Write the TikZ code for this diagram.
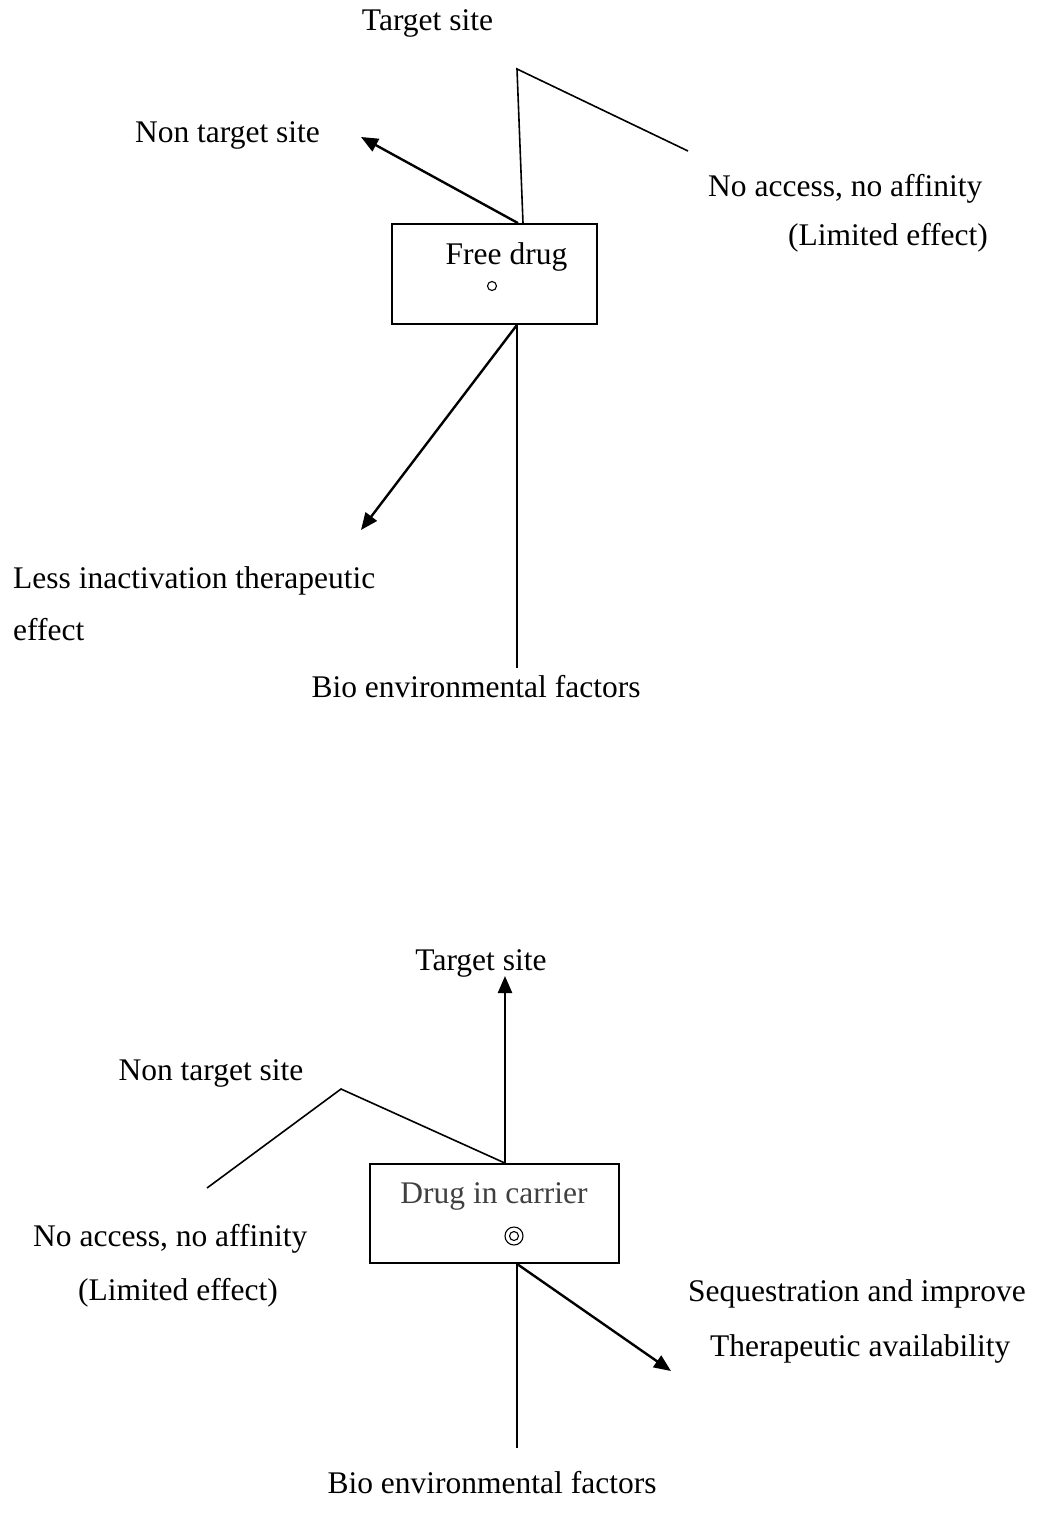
\documentclass[tikz,border=0pt]{standalone}
\usepackage{fontspec}
\setmainfont{Liberation Serif}
\usetikzlibrary{arrows.meta}
\definecolor{boxgray}{HTML}{404040}
\begin{document}
\begin{tikzpicture}[x=1pt,y=-1pt,
  lbl/.style={inner sep=0pt,font=\fontsize{31.5}{36}\selectfont},
  boxnode/.style={draw,line width=1.8pt,inner sep=0pt},
  thinline/.style={line width=1.6pt},
  arrowline/.style={line width=2.4pt,-{Triangle[length=17pt,width=14pt]}},
  dot/.style={circle,draw,inner sep=0pt,line width=1.1pt}]
\useasboundingbox (0,0) rectangle (1041,1528);

% ---------- upper diagram ----------
\node[boxnode,minimum width=205pt,minimum height=100pt] (fd) at (494.5,274) {};
\node[lbl,anchor=base] (fdtxt) at (506.5,264) {Free drug};
\node[dot,minimum size=9pt] (fddot) at (492,286) {};

\node[lbl,anchor=base] (ts1) at (427.5,31) {Target site};
\node[lbl,anchor=base] (nts1) at (227.5,142) {Non target site};
\node[lbl,anchor=base west] (na1) at (708,196) {No access, no affinity};
\node[lbl,anchor=base west] (le1) at (788,245) {(Limited effect)};
\node[lbl,anchor=base west] (li1) at (13,588) {Less inactivation therapeutic};
\node[lbl,anchor=base west] (li2) at (13,640) {effect};
\node[lbl,anchor=base] (bio1) at (476,697) {Bio environmental factors};

\coordinate (p1) at (517,69);
\coordinate (p2) at (688,151);
\coordinate (e1) at (361,137);
\coordinate (e2) at (361,530);
\coordinate (e3) at (517,668);

\draw[arrowline] ([xshift=23.5pt]fd.north) -- (e1);
\draw[thinline,line join=miter] ([xshift=28.5pt]fd.north) -- (p1) -- (p2);
\draw[arrowline] ([xshift=22.5pt]fd.south) -- (e2);
\draw[thinline] ([xshift=22.5pt]fd.south) -- (e3);

% ---------- lower diagram ----------
\node[boxnode,minimum width=249pt,minimum height=99pt] (dc) at (494.5,1213.5) {};
\node[lbl,anchor=base,text=boxgray] (dctxt) at (494,1203) {Drug in carrier};
\node[dot,minimum size=18pt] (dcdot) at (514,1236) {};
\node[dot,minimum size=9pt] (dcdot2) at (514,1236) {};

\node[lbl,anchor=base] (ts2) at (481,970) {Target site};
\node[lbl,anchor=base] (nts2) at (211,1080) {Non target site};
\node[lbl,anchor=base west] (na2) at (33,1246) {No access, no affinity};
\node[lbl,anchor=base west] (le2) at (78,1300) {(Limited effect)};
\node[lbl,anchor=base west] (sq1) at (688,1301) {Sequestration and improve};
\node[lbl,anchor=base west] (sq2) at (710,1356) {Therapeutic availability};
\node[lbl,anchor=base] (bio2) at (492,1493) {Bio environmental factors};

\coordinate (q1) at (341,1089);
\coordinate (q2) at (207,1188);
\coordinate (f1) at (505,976);
\coordinate (f2) at (517,1448);
\coordinate (f3) at (671,1371);

\draw[arrowline] ([xshift=10.5pt]dc.north) -- (f1);
\draw[thinline,line join=miter] ([xshift=10.5pt]dc.north) -- (q1) -- (q2);
\draw[thinline] ([xshift=22.5pt]dc.south) -- (f2);
\draw[arrowline] ([xshift=22.5pt]dc.south) -- (f3);
\end{tikzpicture}
\end{document}
